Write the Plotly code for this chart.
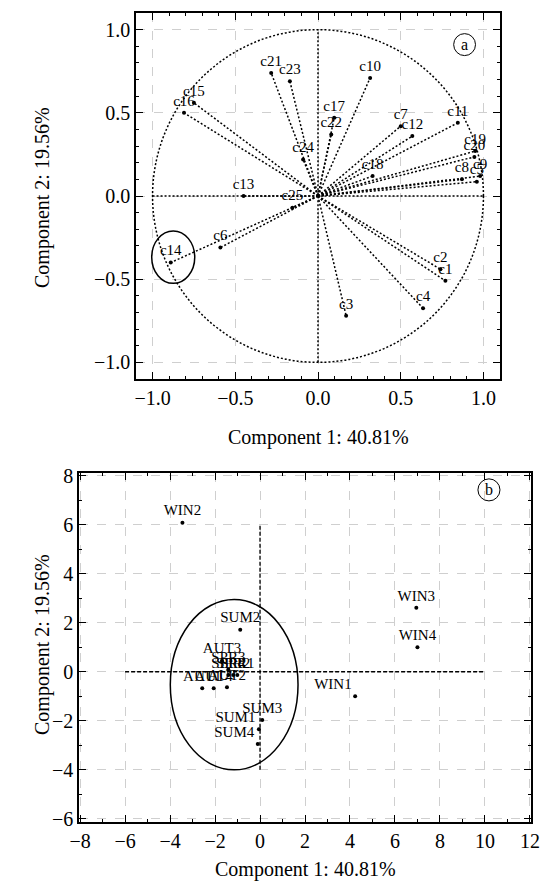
import plotly.graph_objects as go

# ---------------- data: loadings (panel a) ----------------
var_names = ["c1", "c2", "c3", "c4", "c5", "c6", "c7", "c8", "c9", "c10",
             "c11", "c12", "c13", "c14", "c15", "c16", "c17", "c18", "c19", "c20",
             "c21", "c22", "c23", "c24", "c25"]
load_pc1 = [0.77, 0.74, 0.17, 0.635, 0.96, -0.59, 0.50, 0.87, 0.98, 0.315,
            0.845, 0.57, -0.45, -0.89, -0.75, -0.81, 0.098, 0.33, 0.95, 0.945,
            -0.283, 0.08, -0.17, -0.09, -0.155]
load_pc2 = [-0.51, -0.44, -0.72, -0.675, 0.086, -0.31, 0.42, 0.10, 0.12, 0.71,
            0.44, 0.36, 0.0, -0.40, 0.56, 0.50, 0.47, 0.12, 0.27, 0.235,
            0.74, 0.37, 0.69, 0.22, -0.07]

# ---------------- data: scores (panel b) ----------------
sample_names = ["WIN1", "WIN2", "WIN3", "WIN4", "SUM1", "SUM2", "SUM3", "SUM4",
                "AUT1", "AUT4", "AUT2", "AUT3", "SPR3", "SPR4", "SPR2", "SPR1"]
score_pc1 = [4.23, -3.45, 6.95, 7.0, -0.05, -0.88, 0.1, -0.1,
             -2.57, -2.06, -1.47, -1.69, -1.41, -1.41, -1.19, -1.01]
score_pc2 = [-1.0, 6.09, 2.61, 1.0, -2.35, 1.72, -1.97, -2.95,
             -0.67, -0.67, -0.63, 0.45, 0.09, -0.13, -0.13, -0.13]

ticks_a = [-1.0, -0.5, 0.0, 0.5, 1.0]
ticks_bx = [-8, -6, -4, -2, 0, 2, 4, 6, 8, 10, 12]
ticks_by = [-6, -4, -2, 0, 2, 4, 6, 8]

x_title = "Component 1: 40.81%"
y_title = "Component 2: 19.56%"

# ---------------- styling ----------------
FONT = "Liberation Serif, Times New Roman, serif"
W, H = 543, 888
score_textpos = ["top left", "top center", "top center", "top center",
                 "top left", "top center", "top center", "top left",
                 "top center", "top center", "top center", "top center",
                 "top center", "top center", "top center", "top center"]


def px_x(p):
    return p / W


def px_y(p):
    return 1 - p / H


fig = go.Figure()

# dotted lines from origin to each loading
lx, ly = [], []
for xv, yv in zip(load_pc1, load_pc2):
    lx += [0, xv, None]
    ly += [0, yv, None]
fig.add_trace(go.Scatter(x=lx, y=ly, mode="lines", xaxis="x", yaxis="y",
                         line=dict(color="black", width=1.5, dash="2px,2px"),
                         hoverinfo="skip", showlegend=False))
fig.add_trace(go.Scatter(x=load_pc1, y=load_pc2, text=var_names, mode="markers+text",
                         xaxis="x", yaxis="y", textposition="top center",
                         marker=dict(color="black", size=4),
                         textfont=dict(family=FONT, size=15, color="black"),
                         showlegend=False))

fig.add_trace(go.Scatter(x=score_pc1, y=score_pc2, text=sample_names, mode="markers+text",
                         xaxis="x2", yaxis="y2", textposition=score_textpos,
                         marker=dict(color="black", size=4),
                         textfont=dict(family=FONT, size=15, color="black"),
                         showlegend=False))

axis_common = dict(showline=True, linecolor="black", linewidth=1.5, mirror="allticks",
                   ticks="inside", ticklen=7, tickcolor="black", tickwidth=1.2,
                   showgrid=True, gridcolor="#cfcfcf", griddash="dash", gridwidth=1,
                   zeroline=False, automargin=False,
                   tickfont=dict(family=FONT, size=20, color="black"))

fig.update_layout(
    width=W, height=H, autosize=False,
    margin=dict(l=0, r=0, t=0, b=0),
    paper_bgcolor="white", plot_bgcolor="white",
    font=dict(family=FONT, color="black"),
    xaxis=dict(domain=[px_x(136), px_x(500)], range=[-1.1, 1.1], anchor="y",
               tickvals=ticks_a, tickformat=".1f",
               minor=dict(dtick=0.1, tick0=0, ticks="inside", ticklen=3, tickcolor="black", showgrid=False),
               **axis_common),
    yaxis=dict(domain=[px_y(379), px_y(13)], range=[-1.1, 1.1], anchor="x",
               tickvals=ticks_a, tickformat=".1f",
               minor=dict(dtick=0.1, tick0=0, ticks="inside", ticklen=3, tickcolor="black", showgrid=False),
               **axis_common),
    xaxis2=dict(domain=[px_x(79), px_x(531)], range=[-8.05, 12.05], anchor="y2",
                tickvals=ticks_bx,
                minor=dict(dtick=1, tick0=0, ticks="inside", ticklen=3, tickcolor="black", showgrid=False),
                **axis_common),
    yaxis2=dict(domain=[px_y(822), px_y(473)], range=[-6.14, 8.12], anchor="x2",
                tickvals=ticks_by,
                minor=dict(dtick=1, tick0=0, ticks="inside", ticklen=3, tickcolor="black", showgrid=False),
                **axis_common),
)

shapes = [
    # unit circle
    dict(type="circle", xref="x", yref="y", x0=-1, x1=1, y0=-1, y1=1,
         line=dict(color="black", width=1.5, dash="2px,2px")),
    # zero axes of panel a
    dict(type="line", xref="x", yref="y", x0=-1, x1=1, y0=0, y1=0,
         line=dict(color="black", width=1.5, dash="2px,2px")),
    dict(type="line", xref="x", yref="y", x0=0, x1=0, y0=-1, y1=1,
         line=dict(color="black", width=1.5, dash="2px,2px")),
    # ellipse around c14
    dict(type="circle", xref="x", yref="y", x0=-1.005, x1=-0.745, y0=-0.525, y1=-0.21,
         line=dict(color="black", width=1.5)),
    # label circle a
    dict(type="circle", xref="x", yref="y", x0=0.82, x1=0.952, y0=0.844, y1=0.976,
         line=dict(color="black", width=1)),
    # zero axes of panel b
    dict(type="line", xref="x2", yref="y2", x0=-6, x1=10, y0=0, y1=0,
         line=dict(color="black", width=1.3, dash="4px,2px")),
    dict(type="line", xref="x2", yref="y2", x0=0, x1=0, y0=-4, y1=6,
         line=dict(color="black", width=1.3, dash="4px,2px")),
    # ellipse around cluster
    dict(type="circle", xref="x2", yref="y2", x0=-3.99, x1=1.69, y0=-4.01, y1=2.95,
         line=dict(color="black", width=1.5)),
    # label circle b
    dict(type="circle", xref="x2", yref="y2", x0=9.69, x1=10.67, y0=6.98, y1=7.88,
         line=dict(color="black", width=1)),
]
fig.update_layout(shapes=shapes)

ann_font = dict(family=FONT, size=20, color="black")
annotations = [
    dict(text="a", x=0.886, y=0.91, xref="x", yref="y", showarrow=False,
         xanchor="center", yanchor="middle", font=dict(family=FONT, size=16, color="black")),
    dict(text="b", x=10.18, y=7.43, xref="x2", yref="y2", showarrow=False,
         xanchor="center", yanchor="middle", font=dict(family=FONT, size=16, color="black")),
    dict(text=x_title, x=px_x(318), y=px_y(437), xref="paper", yref="paper", showarrow=False,
         xanchor="center", yanchor="middle", font=ann_font),
    dict(text=y_title, x=px_x(42), y=px_y(198), xref="paper", yref="paper", showarrow=False,
         xanchor="center", yanchor="middle", textangle=-90, font=ann_font),
    dict(text=x_title, x=px_x(305), y=px_y(869), xref="paper", yref="paper", showarrow=False,
         xanchor="center", yanchor="middle", font=ann_font),
    dict(text=y_title, x=px_x(42), y=px_y(645), xref="paper", yref="paper", showarrow=False,
         xanchor="center", yanchor="middle", textangle=-90, font=ann_font),
]
fig.update_layout(annotations=annotations)

page_css = ("document.documentElement.style.margin='0';"
            "document.documentElement.style.overflow='hidden';"
            "document.body.style.margin='0';"
            "document.body.style.padding='0';"
            "document.body.style.overflow='hidden';")

fig.write_html("out.html", post_script=page_css, config={"displayModeBar": False})
